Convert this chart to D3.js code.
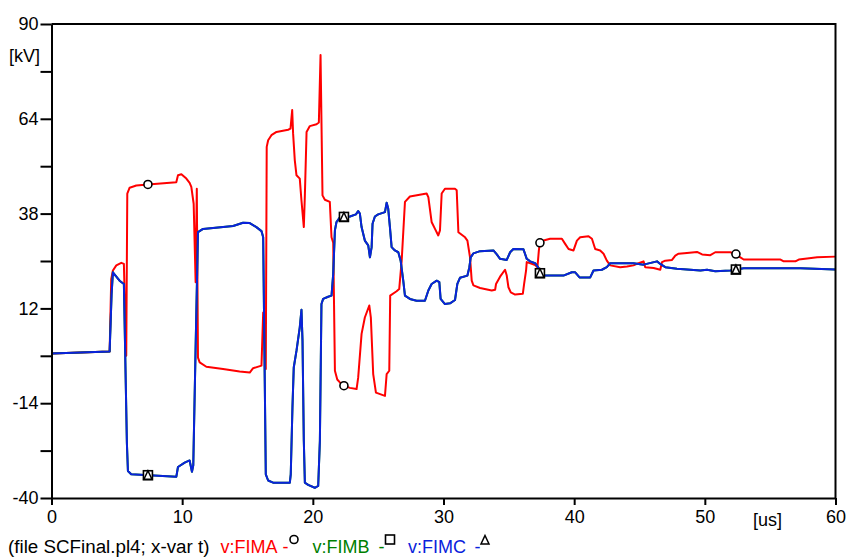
<!DOCTYPE html>
<html>
<head>
<meta charset="utf-8">
<script src="https://cdn.jsdelivr.net/npm/d3@7"></script>
<style>
  body { margin: 0; background: #fff; }
  svg { display: block; font-family: Arial, "Liberation Sans", sans-serif; }
</style>
</head>
<body>
<div id="chart"></div>
<script>
// FIMA (red) - time [us] and voltage [kV]
const timeA = [0, 4.45, 4.57, 4.7, 4.96, 5.34, 5.54, 5.67, 5.72, 5.8, 5.98, 6.49, 7.38, 9.55, 9.68, 9.94, 10.32, 10.57, 10.7, 10.88, 11.03, 11.12, 11.21, 11.34, 11.85, 13.13, 14.4, 15.17, 15.43, 16.07, 16.2, 16.4, 16.47, 16.58, 16.83, 17.22, 18.11, 18.29, 18.42, 18.49, 18.62, 18.75, 19.0, 19.13, 19.31, 19.39, 19.52, 19.77, 20.28, 20.46, 20.59, 20.74, 20.92, 21.3, 21.43, 21.56, 21.69, 21.87, 22.07, 22.38, 22.84, 23.35, 23.47, 23.73, 23.98, 24.32, 24.44, 24.62, 24.83, 25.52, 25.65, 25.85, 25.92, 26.41, 26.61, 26.8, 27.05, 27.43, 28.71, 28.84, 29.09, 29.35, 29.6, 29.73, 29.86, 30.11, 30.88, 31.01, 31.14, 31.65, 31.83, 32.03, 32.16, 32.29, 32.8, 33.69, 33.95, 34.02, 34.33, 34.71, 34.84, 34.97, 35.15, 35.48, 36.07, 36.17, 36.32, 36.37, 36.76, 37.01, 37.19, 37.3, 37.38, 37.65, 38.16, 39.06, 39.31, 39.57, 39.95, 40.21, 40.46, 41.1, 41.36, 41.61, 41.99, 42.25, 42.5, 42.76, 43.52, 44.04, 44.54, 44.93, 45.31, 45.44, 46.08, 46.59, 46.72, 46.97, 47.49, 47.74, 47.99, 48.63, 49.4, 49.79, 50.42, 50.8, 51.95, 52.38, 52.72, 52.97, 55.79, 56.04, 56.93, 57.19, 57.83, 58.6, 60];
const fima = [-0.4, 0.2, 20, 22.4, 23.8, 24.5, 24.2, 5, -1.0, 43.5, 45.1, 45.7, 46.0, 46.6, 48.5, 48.8, 47.6, 46.4, 45.3, 40.7, 19.2, 44.8, -1.5, -2.8, -4.0, -4.6, -5.3, -5.6, -4.4, -3.7, 10.9, -4.6, 56.3, 58.1, 59.5, 60.4, 61.0, 61.3, 66.4, 60.0, 52.6, 48.5, 47.6, 41.6, 34.3, 43.0, 60.4, 62.0, 62.5, 63.0, 81.5, 43.0, 41.8, 41.2, 31.5, 30.0, -5.1, -7.5, -8.3, -9.2, -9.8, -10.1, -7.0, 5.0, 9.5, 12.8, 9.5, -6.0, -11.1, -12.0, -6.0, -5.1, 15.5, 16.7, 17.3, 25.1, 41.2, 42.7, 43.5, 42.5, 35.7, 33.8, 32.0, 33.4, 43.5, 44.8, 44.8, 44.4, 32.9, 31.5, 30.6, 26.0, 19.6, 18.3, 17.6, 16.9, 17.1, 18.7, 20.7, 22.6, 21.0, 17.8, 16.4, 15.8, 16.0, 18.7, 22.4, 24.7, 24.2, 23.9, 23.3, 28.0, 30.0, 30.6, 31.1, 31.1, 29.7, 28.3, 27.9, 30.6, 31.5, 31.8, 31.1, 28.3, 27.9, 27.0, 25.1, 23.8, 23.3, 23.5, 23.8, 24.4, 24.9, 23.3, 23.1, 22.6, 24.7, 25.1, 25.3, 26.5, 27.0, 27.2, 27.5, 26.8, 26.6, 27.4, 27.4, 26.9, 26.0, 25.4, 25.4, 24.9, 24.9, 25.4, 25.7, 26.0, 26.2];

// FIMC (blue) - FIMB lies exactly under it
const timeC = [0, 4.45, 4.6, 4.7, 4.9, 5.21, 5.54, 5.77, 5.85, 6.1, 9.55, 9.68, 10.19, 10.57, 10.75, 10.85, 11.05, 11.21, 11.6, 13.9, 14.66, 15.17, 15.68, 16.07, 16.2, 16.4, 16.58, 16.96, 18.24, 18.31, 18.44, 18.54, 18.75, 19.0, 19.13, 19.21, 19.31, 19.39, 19.64, 20.15, 20.41, 20.54, 20.66, 20.79, 21.17, 21.43, 21.56, 21.69, 21.81, 22.07, 22.84, 23.3, 23.47, 23.6, 23.73, 23.98, 24.24, 24.37, 24.5, 24.57, 24.75, 25.0, 25.52, 25.65, 25.77, 25.9, 26.03, 26.28, 26.54, 26.72, 26.92, 27.05, 27.43, 27.94, 28.58, 28.84, 29.09, 29.48, 29.68, 29.78, 30.11, 30.5, 30.88, 31.06, 31.26, 31.83, 31.98, 32.08, 32.29, 32.8, 33.82, 34.08, 34.33, 34.84, 35.1, 35.35, 36.12, 36.37, 36.63, 37.01, 37.27, 37.39, 37.78, 39.18, 39.82, 40.08, 40.41, 41.23, 41.48, 42.12, 42.5, 42.76, 44.54, 45.31, 46.34, 46.59, 46.97, 47.87, 48.89, 49.66, 50.17, 50.8, 51.95, 52.97, 57.32, 60];
const fimc = [-0.4, 0.2, 16.0, 21.9, 21.0, 19.6, 18.7, -25.0, -32.6, -33.5, -34.2, -31.5, -30.3, -29.7, -32.8, -31.0, 5.0, 32.9, 33.8, 34.6, 35.5, 35.4, 34.3, 33.2, 31.5, -33.5, -35.2, -35.8, -35.8, -33.5, -15.2, -4.2, 0.4, 6.8, 11.6, 3.1, -24.3, -35.8, -36.4, -37.2, -36.7, -24.3, 13.2, 14.6, 15.2, 15.5, 21.5, 33.4, 35.7, 37.0, 37.2, 37.8, 38.7, 38.0, 34.3, 30.6, 29.3, 26.0, 28.8, 35.2, 37.2, 37.8, 38.4, 41.0, 39.3, 34.3, 28.8, 27.9, 27.4, 25.1, 19.6, 15.5, 14.6, 14.1, 14.1, 16.9, 18.7, 19.6, 19.2, 14.6, 13.2, 13.4, 14.3, 18.7, 20.4, 21.0, 23.3, 26.0, 27.1, 27.7, 27.9, 26.8, 25.6, 25.3, 27.4, 28.3, 28.2, 25.6, 24.9, 24.4, 23.1, 21.5, 21.0, 21.0, 21.9, 21.9, 20.5, 20.5, 22.4, 22.6, 23.3, 24.4, 24.4, 24.0, 24.9, 24.2, 23.3, 22.9, 22.6, 22.4, 22.6, 22.2, 22.4, 23.0, 23.0, 22.7];
const timeB = timeC;
const fimb = fimc;

// marker times (every 15 us)
const markerTimes = [7.38, 22.38, 37.38, 52.38];

const yTicks = [-40, -27, -14, -1, 12, 25, 38, 51, 64, 77, 90];
const yLabels = [-40, -14, 12, 38, 64, 90];
const xTicks = [0, 10, 20, 30, 40, 50, 60];

const width = 847, height = 557;
const plotLeft = 51.5, plotRight = 835.5, plotTop = 24, plotBottom = 498;

const RED = "#ff0000", GREEN = "#008000", BLUE = "#0a22dc";

const x = d3.scaleLinear().domain([0, 60]).range([plotLeft, plotRight]);
const y = d3.scaleLinear().domain([-40, 90]).range([plotBottom, plotTop]);

const svg = d3.select("#chart").append("svg")
    .attr("width", width)
    .attr("height", height);

const line = d3.line()
    .x(d => x(d[0]))
    .y(d => y(d[1]));

let series = [
  { t: timeA, v: fima, color: RED, marker: "circle" },
  { t: timeB, v: fimb, color: GREEN, marker: "square" },
  { t: timeC, v: fimc, color: BLUE, marker: "triangle" }
];

series.forEach(s => {
  svg.append("path")
      .datum(d3.zip(s.t, s.v))
      .attr("d", line)
      .attr("fill", "none")
      .attr("stroke", s.color)
      .attr("stroke-width", 2)
      .attr("stroke-linejoin", "round");
});

// value of a series at time t (linear between samples)
function valueAt(s, t) {
  let i = d3.bisectLeft(s.t, t);
  if (i <= 0) return s.v[0];
  if (i >= s.t.length) return s.v[s.v.length - 1];
  let t0 = s.t[i - 1], t1 = s.t[i];
  let k = (t - t0) / (t1 - t0);
  return s.v[i - 1] + k * (s.v[i] - s.v[i - 1]);
}

function drawMarker(g, type, cx, cy) {
  if (type === "circle") {
    g.append("circle").attr("cx", cx).attr("cy", cy).attr("r", 4)
        .attr("fill", "#fff").attr("stroke", "#000").attr("stroke-width", 1.6);
  } else if (type === "square") {
    g.append("rect").attr("x", cx - 4.5).attr("y", cy - 4.5)
        .attr("width", 9).attr("height", 9)
        .attr("fill", "#fff").attr("stroke", "#000").attr("stroke-width", 1.6);
  } else {
    g.append("path")
        .attr("d", `M${cx},${cy - 4.5}L${cx + 4},${cy + 4}L${cx - 4},${cy + 4}Z`)
        .attr("fill", "#fff").attr("stroke", "#000").attr("stroke-width", 1.5)
        .attr("stroke-linejoin", "miter");
  }
}

const markers = svg.append("g");
series.forEach(s => {
  markerTimes.forEach(t => {
    drawMarker(markers, s.marker, x(t), y(valueAt(s, t)));
  });
});

// axes
const yAxis = d3.axisLeft(y)
    .tickValues(yTicks)
    .tickSize(11)
    .tickSizeOuter(0)
    .tickPadding(2)
    .tickFormat(d => yLabels.includes(d) ? d : "");

const xAxis = d3.axisBottom(x)
    .tickValues(xTicks)
    .tickSize(7)
    .tickSizeOuter(0)
    .tickPadding(5)
    .tickFormat(d3.format("d"));

svg.append("g")
    .attr("transform", `translate(${plotLeft},0)`)
    .call(yAxis)
    .call(g => g.selectAll("line, path").attr("stroke", "#000").attr("stroke-width", 2))
    .call(g => g.selectAll("text").attr("font-size", 18).attr("fill", "#000"));

svg.append("g")
    .attr("transform", `translate(0,${plotBottom})`)
    .call(xAxis)
    .call(g => g.selectAll("line, path").attr("stroke", "#000").attr("stroke-width", 2))
    .call(g => g.selectAll("text").attr("font-size", 18).attr("fill", "#000"));

svg.selectAll("g").attr("font-family", null);

// frame: top and right
svg.append("path")
    .attr("d", `M${plotLeft},${plotTop}H${plotRight}V${plotBottom}`)
    .attr("fill", "none")
    .attr("stroke", "#000")
    .attr("stroke-width", 2);

// units
svg.append("text").attr("x", 9).attr("y", 62).attr("font-size", 18).text("[kV]");
svg.append("text").attr("x", 753).attr("y", 526).attr("font-size", 18).text("[us]");

// legend line
const legend = svg.append("g").attr("font-size", 18);
legend.append("text").attr("x", 8).attr("y", 553).attr("font-size", 18.8).text("(file SCFinal.pl4; x-var t)");

const legendItems = [
  { name: "v:FIMA", color: RED, x: 220.5, dash: 282.5, marker: "circle", mx: 294, my: 539.5 },
  { name: "v:FIMB", color: GREEN, x: 312.5, dash: 378.5, marker: "square", mx: 390, my: 539.5 },
  { name: "v:FIMC", color: BLUE, x: 408, dash: 474.5, marker: "triangle", mx: 485, my: 540 }
];

legendItems.forEach(it => {
  legend.append("text").attr("x", it.x).attr("y", 553).attr("fill", it.color).text(it.name);
  legend.append("text").attr("x", it.dash).attr("y", 553).attr("fill", it.color).text("-");
  drawMarker(legend, it.marker, it.mx, it.my);
});
</script>
</body>
</html>
